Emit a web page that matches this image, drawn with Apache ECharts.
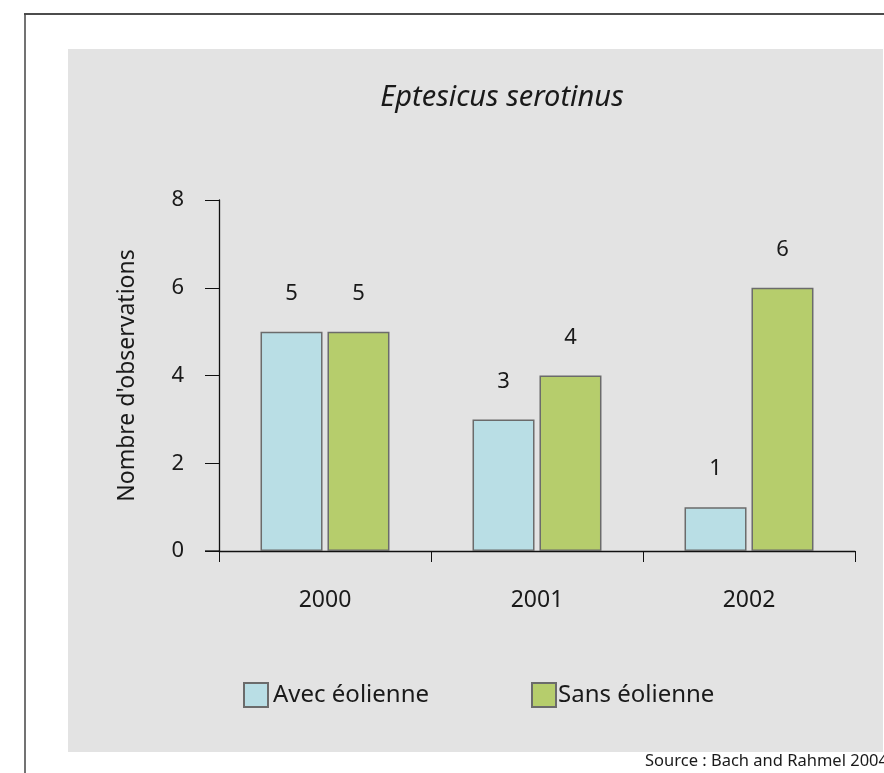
<!DOCTYPE html>
<html>
<head>
<meta charset="utf-8">
<script src="https://cdn.jsdelivr.net/npm/echarts@6/dist/echarts.min.js"></script>
<style>
  html, body { margin: 0; padding: 0; background: #fff; }
  #chart { width: 884px; height: 773px; }
</style>
</head>
<body>
<div id="chart"></div>
<script>
// données
var years = ['2000', '2001', '2002'];
var avecEolienne = [5, 3, 1];
var sansEolienne = [5, 4, 6];
var seriesNames = ['Avec éolienne', 'Sans éolienne'];

var FONT = 'Noto Sans';
var chart = echarts.init(document.getElementById('chart'));

var option = {
    animation: false,
    backgroundColor: '#fff',
    title: {
        text: 'Eptesicus serotinus',
        left: 497,
        top: 78,
        textAlign: 'center',
        textStyle: { fontFamily: FONT, fontStyle: 'italic', fontWeight: 'normal', fontSize: 29, color: '#1a1a1a' }
    },
    legend: [
        {
            data: [seriesNames[0]],
            icon: 'rect',
            left: 238, top: 677,
            itemWidth: 24, itemHeight: 24,
            textStyle: { fontFamily: FONT, fontSize: 24, color: '#1a1a1a' }
        },
        {
            data: [seriesNames[1]],
            icon: 'rect',
            left: 526, top: 677,
            itemWidth: 24, itemHeight: 24,
            textStyle: { fontFamily: FONT, fontSize: 24, color: '#1a1a1a', padding: [0, 0, 0, -3] }
        }
    ],
    grid: { left: 219, right: 29, top: 200, bottom: 222 },
    xAxis: {
        type: 'category',
        data: years,
        axisLine: { lineStyle: { color: '#111', width: 1.3 } },
        axisTick: { show: true, length: 11, alignWithLabel: false, lineStyle: { color: '#111' } },
        axisLabel: { fontFamily: FONT, fontSize: 23, color: '#1a1a1a', margin: 38 }
    },
    yAxis: {
        type: 'value',
        min: 0, max: 8, interval: 2,
        name: "Nombre d'observations",
        nameLocation: 'middle',
        nameGap: 80,
        nameTextStyle: { fontFamily: FONT, fontSize: 23, color: '#1a1a1a' },
        axisLine: { show: true, lineStyle: { color: '#111', width: 1.3 } },
        axisTick: { show: true, length: 14, lineStyle: { color: '#111' } },
        splitLine: { show: false },
        axisLabel: { fontFamily: FONT, fontSize: 22, color: '#1a1a1a', margin: 35 }
    },
    series: [
        {
            name: seriesNames[0],
            type: 'bar',
            data: avecEolienne,
            barWidth: 62,
            barGap: '8%',
            itemStyle: { color: '#b9dee5', borderColor: '#6b6b6b', borderWidth: 1.5 },
            label: { show: true, position: 'top', distance: 27, fontFamily: FONT, fontSize: 22, color: '#1a1a1a' }
        },
        {
            name: seriesNames[1],
            type: 'bar',
            data: sansEolienne,
            barWidth: 62,
            barGap: '8%',
            itemStyle: { color: '#b6cd6c', borderColor: '#6b6b6b', borderWidth: 1.5 },
            label: { show: true, position: 'top', distance: 27, fontFamily: FONT, fontSize: 22, color: '#1a1a1a' }
        }
    ],
    graphic: [
        { type: 'rect', z: -10, shape: { x: 68, y: 49, width: 815, height: 703 }, style: { fill: '#e3e3e3' } },
        { type: 'line', z: -5, shape: { x1: 24, y1: 14, x2: 884, y2: 14 }, style: { stroke: '#111', lineWidth: 1.5 } },
        { type: 'line', z: -5, shape: { x1: 25, y1: 14, x2: 25, y2: 773 }, style: { stroke: '#444', lineWidth: 1.5 } },
        { type: 'line', z: 5, shape: { x1: 205, y1: 551, x2: 219, y2: 551 }, style: { stroke: '#111', lineWidth: 1.3 } },
        {
            type: 'text', z: 5, left: 645, top: 753,
            style: { text: 'Source : Bach and Rahmel 2004', fontFamily: FONT, fontSize: 16.5, fill: '#1a1a1a' }
        }
    ]
};

chart.setOption(option);
</script>
</body>
</html>
